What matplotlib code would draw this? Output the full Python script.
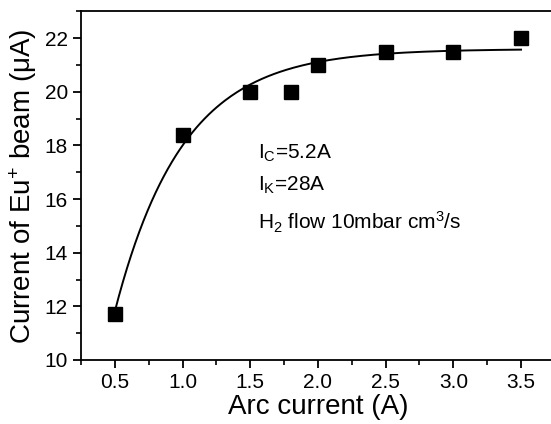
import numpy as np
import matplotlib.pyplot as plt
from matplotlib.ticker import MultipleLocator

plt.rcParams['font.family'] = ['Liberation Sans', 'DejaVu Sans']
plt.rcParams['mathtext.fontset'] = 'custom'
plt.rcParams['mathtext.rm'] = 'Liberation Sans'
plt.rcParams['mathtext.it'] = 'Liberation Sans'

# measured points
arc_current = [0.5, 1.0, 1.5, 1.8, 2.0, 2.5, 3.0, 3.5]
beam_current = [11.7, 18.4, 20.0, 20.0, 21.0, 21.5, 21.5, 22.0]

# fitted saturation curve y = y_sat - amp * exp(-x / tau)
y_sat = 21.6
amp = 26.6
tau = 0.5

fig = plt.figure(figsize=(5.51, 4.24), dpi=100)
ax = fig.add_axes([0.147, 0.151, 0.86, 0.822])

x_fit = np.linspace(0.5, 3.5, 200)
ax.plot(x_fit, y_sat - amp * np.exp(-x_fit / tau), color='black', lw=1.4)
ax.plot(arc_current, beam_current, 's', color='black', markersize=9.5)

ax.set_xlim(0.25, 3.75)
ax.set_ylim(10, 23)
ax.xaxis.set_major_locator(MultipleLocator(0.5))
ax.xaxis.set_minor_locator(MultipleLocator(0.25))
ax.yaxis.set_major_locator(MultipleLocator(2))
ax.yaxis.set_minor_locator(MultipleLocator(1))
ax.set_xticks([0.5, 1.0, 1.5, 2.0, 2.5, 3.0, 3.5])
ax.tick_params(which='major', direction='out', length=6, width=1.3, labelsize=15)
ax.tick_params(which='minor', direction='out', length=3.5, width=1.2)
for s in ax.spines.values():
    s.set_linewidth(1.3)
ax.spines['right'].set_visible(False)

ax.set_xlabel('Arc current (A)', fontsize=20, labelpad=1)
ax.set_ylabel('Current of Eu$^{+}$ beam (\u03bcA)', fontsize=20, labelpad=4)

ax.text(0.468, 0.639, r'I$_{\rm C}$=5.2A', transform=fig.transFigure, fontsize=15, va='center')
ax.text(0.468, 0.564, r'I$_{\rm K}$=28A', transform=fig.transFigure, fontsize=15, va='center')
ax.text(0.468, 0.476, r'H$_{2}$ flow 10mbar cm$^{3}$/s', transform=fig.transFigure, fontsize=15, va='center')

fig.savefig('out.png')
